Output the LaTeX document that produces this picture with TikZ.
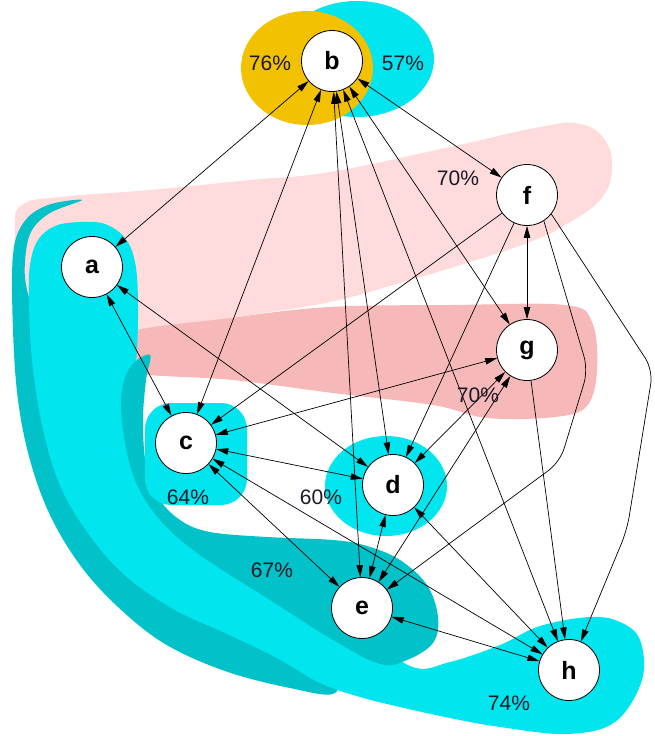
\documentclass[tikz,border=0pt]{standalone}
\usepackage{fontspec}
\setmainfont{Liberation Sans}
\usetikzlibrary{arrows.meta}
\definecolor{cyanA}{RGB}{0,229,238}
\definecolor{tealA}{RGB}{0,194,200}
\definecolor{goldA}{RGB}{242,193,0}
\definecolor{pinkL}{RGB}{255,219,219}
\definecolor{pinkD}{RGB}{246,184,184}
\definecolor{inkA}{RGB}{25,25,40}
\begin{document}
\begin{tikzpicture}[x=1pt,y=-1pt,
  vertex/.style={circle,draw=black,line width=0.8pt,fill=white,minimum size=61pt,inner sep=0pt,
    font=\fontsize{25}{25}\selectfont\bfseries},
  pct/.style={inner sep=0pt,text=inkA,font=\fontsize{21}{21}\selectfont},
  edge/.style={line width=0.7pt,draw=black},
  >={Triangle[length=12pt,width=6.5pt]}]
\useasboundingbox (0,0) rectangle (654,736);
\fill[white] (0,0) rectangle (654,736);

% clusters
\fill[pinkL] plot[smooth cycle,tension=0.7] coordinates {(15,230) (22,205) (60,197) (150,190) (250,180) (330,172) (450,147) (540,127) (580,124) (605,140) (612,170) (600,200) (565,225) (530,242) (470,262) (400,283) (330,302) (250,315) (150,330) (60,340) (20,300)};
\fill[pinkD] plot[smooth cycle,tension=0.6] coordinates {(120,335) (230,318) (330,307) (453,305) (565,305) (592,322) (597,370) (587,406) (555,417) (487,418) (433,405) (333,393) (233,380) (120,370)};

\fill[tealA] plot[smooth cycle,tension=0.6] coordinates {(82,200) (48,205) (24,222) (13,255) (13,330) (18,400) (30,460) (50,515) (80,565) (118,607) (165,644) (225,671) (290,688) (335,693) (330,660) (250,625) (160,585) (110,510) (70,420) (40,330) (27,290) (25,262) (31,232) (50,213)};
\fill[cyanA] plot[smooth cycle,tension=0.6] coordinates {(80,222) (55,226) (38,240) (30,265) (29,300) (32,360) (43,430) (62,490) (93,540) (128,578) (175,610) (225,633) (275,657) (320,683) (360,697) (400,707) (450,718) (500,727) (567,734) (615,722) (642,680) (640,640) (620,622) (590,617) (540,626) (500,645) (450,662) (410,666) (350,620) (290,585) (230,555) (185,528) (155,495) (138,450) (133,400) (137,350) (138,300) (135,262) (125,238) (105,224)};
\fill[tealA] plot[smooth cycle,tension=0.6] coordinates {(150,355) (146,380) (143,420) (146,465) (158,497) (180,520) (210,532) (267,537) (333,540) (367,546) (400,560) (427,585) (438,617) (433,643) (407,660) (380,664) (333,640) (270,600) (200,555) (160,520) (135,480) (123,430) (122,390) (132,365)};
\fill[cyanA, rounded corners=26pt] (145,403) rectangle (247,505);
\fill[cyanA] (386,486) ellipse [x radius=61pt, y radius=50pt];

\fill[cyanA] (357,59) ellipse [x radius=77pt, y radius=58pt];
\fill[goldA] (307,68) ellipse [x radius=66pt, y radius=57pt];

% vertices
\node[vertex] (b) at (332,61) {b};
\node[vertex] (a) at (92,267) {a};
\node[vertex] (f) at (527,195) {f};
\node[vertex] (g) at (527,350) {g};
\node[vertex] (c) at (186,443) {c};
\node[vertex] (d) at (393,485) {d};
\node[vertex] (e) at (362,608) {e};
\node[vertex] (h) at (569,670) {h};

% connectors
\draw[edge,<->] (b) -- (a);
\draw[edge,<->] (b) -- (c);
\draw[edge,<->] (b) -- (e);
\draw[edge,<->] (b) -- (d);
\draw[edge,<->] (b) -- (h);
\draw[edge,<->] (b) -- (g);
\draw[edge,<->] (b) -- (f);
\draw[edge,<->] (f) -- (g);
\draw[edge,->] (f) -- (c);
\draw[edge,->] (f) -- (d);
\draw[edge,->,rounded corners=14pt] (f.-57) -- (588,370) -- (560,462) -- (e);
\draw[edge,->,rounded corners=14pt] (f.-38) -- (653,370) -- (627,530) -- (h);
\draw[edge,<->] (g) -- (c);
\draw[edge,<->] (g) -- (d);
\draw[edge,<->] (g) -- (e);
\draw[edge,->] (g) -- (h);
\draw[edge,<->] (a) -- (c);
\draw[edge,<->] (a) -- (d);
\draw[edge,<->] (c) -- (d);
\draw[edge,<->] (c) -- (e);
\draw[edge,<->] (c) -- (h);
\draw[edge,<->] (d) -- (e);
\draw[edge,<->] (d) -- (h);
\draw[edge,<->] (e) -- (h);

% cluster shares
\node[pct] (p1) at (270,63) {76\%};
\node[pct] (p2) at (403,63) {57\%};
\node[pct] (p3) at (458,178) {70\%};
\node[pct] (p4) at (478,395) {70\%};
\node[pct] (p5) at (188,497) {64\%};
\node[pct] (p6) at (321,497) {60\%};
\node[pct] (p7) at (272,570) {67\%};
\node[pct] (p8) at (509,703) {74\%};
\end{tikzpicture}
\end{document}
